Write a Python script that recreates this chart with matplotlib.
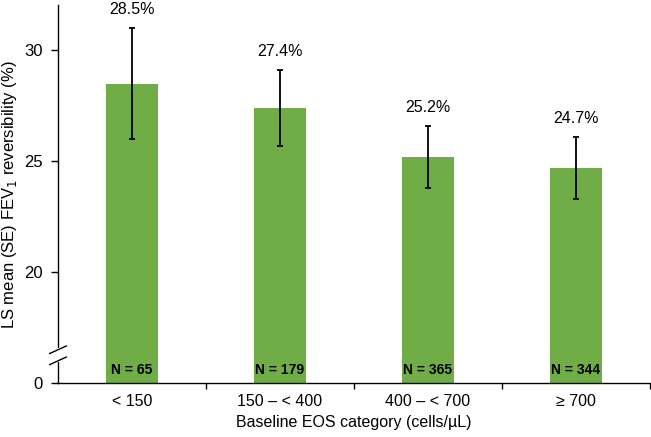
import matplotlib
matplotlib.use("Agg")
import matplotlib.pyplot as plt
import numpy as np

plt.rcParams['font.family'] = ['Liberation Sans', 'DejaVu Sans']

categories = ["< 150", "150 \u2013 < 400", "400 \u2013 < 700", "\u2265 700"]
ls_mean = [28.5, 27.4, 25.2, 24.7]
se = [2.5, 1.7, 1.4, 1.4]
n_labels = ["N = 65", "N = 179", "N = 365", "N = 344"]
ytick_vals = [15, 20, 25, 30]
ytick_labels = ["0", "20", "25", "30"]
axis_base = 15  # broken axis: 0 shown at 15

fig = plt.figure(figsize=(6.51, 4.37), dpi=100)
ax = fig.add_axes([58/651, 1-383/437, (650-58)/651, (383-5)/437])

x = np.arange(len(categories))
green = "#70AD47"
heights = [v - axis_base for v in ls_mean]
ax.bar(x, heights, bottom=axis_base, width=0.35, color=green, zorder=2)
ax.errorbar(x, ls_mean, yerr=se, fmt='none', ecolor='black', elinewidth=1.3,
            capsize=2.5, capthick=1.3, zorder=3)

for xi, m, s in zip(x, ls_mean, se):
    ax.annotate(f"{m:.1f}%", (xi, m + s), xytext=(0, 8), textcoords='offset points',
                ha='center', va='bottom', fontsize=11.5)
for xi, lab in zip(x, n_labels):
    ax.text(xi, axis_base + 0.6, lab, ha='center', va='center', fontsize=10,
            fontweight='bold', zorder=4)

ax.set_xlim(-0.5, 3.5)
ax.set_ylim(15, 32.05)
ax.set_yticks(ytick_vals)
ax.set_yticklabels(ytick_labels, fontsize=12)
ax.tick_params(axis='y', direction='out', length=5, width=1, pad=6)

ax.set_xticks(x)
ax.set_xticklabels(categories, fontsize=11.5)
ax.tick_params(axis='x', which='major', length=0, pad=8)
ax.set_xticks([0.5, 1.5, 2.5, 3.5], minor=True)
ax.tick_params(axis='x', which='minor', direction='out', length=4, width=1)

for sp in ['top', 'right']:
    ax.spines[sp].set_visible(False)
ax.spines['left'].set_linewidth(1)
ax.spines['bottom'].set_linewidth(1)

ax.set_xlabel("Baseline EOS category (cells/\u00b5L)", fontsize=11.5, labelpad=4)
fig.text(10/651, 1-195/437, "LS mean (SE) FEV$_1$ reversibility (%)", fontsize=12,
         rotation=90, ha='center', va='center')

# axis break marks
trans = ax.get_yaxis_transform()
yb = 16.25
ax.plot([0, 0], [yb - 0.22, yb + 0.22], transform=trans, color='white', lw=3,
        clip_on=False, zorder=5)
for dy in (-0.25, 0.25):
    ax.plot([-0.014, 0.014], [yb + dy - 0.17, yb + dy + 0.17], transform=trans,
            color='black', lw=1, clip_on=False, zorder=6)

fig.savefig("out.png", dpi=100)
